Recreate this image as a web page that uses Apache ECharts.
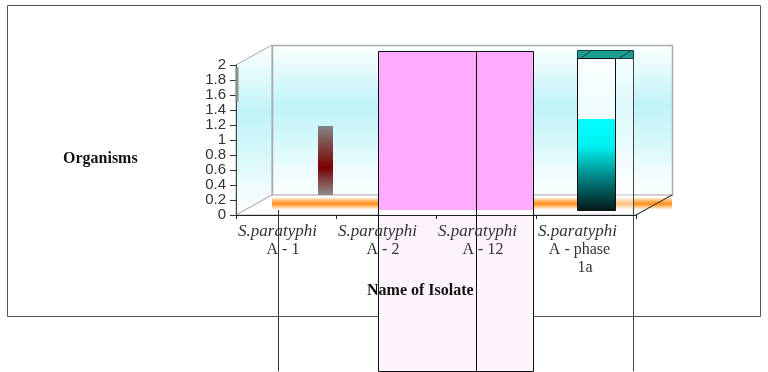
<!DOCTYPE html>
<html>
<head>
<meta charset="utf-8">
<script src="https://cdn.jsdelivr.net/npm/echarts@6/dist/echarts.min.js"></script>
<style>
html,body{margin:0;padding:0;background:#ffffff;}
#chart{width:768px;height:372px;}
</style>
</head>
<body>
<div id="chart"></div>
<script>
// ---------------- data ----------------
const categories = ['S.paratyphi A - 1', 'S.paratyphi A - 2', 'S.paratyphi A - 12', 'S.paratyphi A - phase 1a'];
const yMin = 0;
const yMax = 2;
const yStep = 0.2;
const brownValues = [0.92, null, null, null];
const pinkValues = [null, 1.92, 1.92, null];
const tealTopValues = [null, null, null, 1.93];
const tealFillValues = [null, null, null, 1.01];
const barBaseValue = -0.2;      // base of the 3D bars, below the back floor line
const overflowValue = -2.35;    // where the broken bars run off the plot
const axisStubValues = [1.51, 1.97]; // grey stub on the value axis

// ---------------- layout ----------------
const FRONT = { left: 236, top: 65, width: 400, height: 150 };
const DEPTH = { dx: 36, dy: -20 };
const BACK = { left: FRONT.left + DEPTH.dx, top: FRONT.top + DEPTH.dy, width: FRONT.width, height: FRONT.height };
const FL = FRONT.left, FT = FRONT.top, FR = FRONT.left + FRONT.width, FB = FRONT.top + FRONT.height;
const BL = BACK.left, BT = BACK.top, BR = BACK.left + BACK.width, BB = BACK.top + BACK.height;

const wallGrad = { type: 'linear', x: 0, y: 0, x2: 0, y2: 1, colorStops: [
  { offset: 0, color: '#fbffff' }, { offset: 0.1, color: '#eefcfd' },
  { offset: 0.4, color: '#c0f3f7' }, { offset: 0.6, color: '#d2f7fa' },
  { offset: 0.85, color: '#f0fcfd' }, { offset: 1, color: '#fbfefe' }] };
const orangeGrad = { type: 'linear', x: 0, y: 0, x2: 0, y2: 1, colorStops: [
  { offset: 0, color: '#ffe6cc' }, { offset: 0.45, color: '#ff9526' },
  { offset: 0.6, color: '#ff9a30' }, { offset: 1, color: '#ffeedd' }] };

const crisp = (v) => Math.round(v) + 0.5;
function band(api, cat) {
  const c = api.coord([cat, 0])[0];
  const w = api.size([1, 0])[0];
  return { x0: c - w / 2, w: w };
}
function toItems(arr) {
  const out = [];
  arr.forEach((v, i) => { if (v !== null) out.push([i, v]); });
  return out;
}

function renderBrown(params, api) {
  const cat = api.value(0), v = api.value(1);
  const b = band(api, cat);
  const yTop = api.coord([cat, v])[1], y0 = api.coord([cat, 0])[1];
  const yBase = api.coord([cat, barBaseValue])[1], yLow = api.coord([cat, overflowValue])[1];
  const xl = Math.round(b.x0 + b.w * 0.46), xr = Math.round(b.x0 + b.w * 0.61);
  const xe = crisp(b.x0 + b.w * 0.06);
  return { type: 'group', children: [
    { type: 'rect', shape: { x: xl, y: yTop, width: xr - xl, height: y0 - yTop },
      style: { fill: { type: 'linear', x: 0, y: 0, x2: 0, y2: 1, colorStops: [
        { offset: 0, color: '#858585' }, { offset: 0.6, color: '#7a0000' }, { offset: 1, color: '#8c8c8c' }] } } },
    { type: 'line', shape: { x1: xe, y1: yBase, x2: xe, y2: yLow }, style: { stroke: '#333', lineWidth: 1 } }
  ] };
}

const PINK_SPANS = { 1: [0.06, 1.04], 2: [0.04, 0.61] };
function renderPink(params, api) {
  const cat = api.value(0), v = api.value(1);
  const b = band(api, cat);
  const sp = PINK_SPANS[cat];
  const xl = crisp(b.x0 + b.w * sp[0]), xr = crisp(b.x0 + b.w * sp[1]);
  const yTop = crisp(api.coord([cat, v])[1]);
  const yBase = Math.round(api.coord([cat, barBaseValue])[1]);
  const yLow = crisp(api.coord([cat, overflowValue])[1]);
  return { type: 'group', children: [
    { type: 'rect', shape: { x: xl, y: yTop, width: xr - xl, height: yBase - yTop }, style: { fill: '#ffabff' } },
    { type: 'rect', shape: { x: xl, y: yBase, width: xr - xl, height: 5 }, style: { fill: '#fffaff' } },
    { type: 'rect', shape: { x: xl, y: yBase + 5, width: xr - xl, height: yLow - yBase - 5 }, style: { fill: '#fcf3fc' } },
    { type: 'rect', shape: { x: xl, y: yTop, width: xr - xl, height: yLow - yTop }, style: { fill: null, stroke: '#111', lineWidth: 1 } }
  ] };
}

function renderTeal(params, api) {
  const cat = api.value(0), top = api.value(1), fill = api.value(2);
  const b = band(api, cat);
  const xl = crisp(b.x0 + b.w * 0.05), xm = crisp(b.x0 + b.w * 0.43), xr = crisp(b.x0 + b.w * 0.61);
  const yTop = crisp(api.coord([cat, top])[1]);
  const capB = yTop + 8;
  const yFill = Math.round(api.coord([cat, fill])[1]);
  const yBase = crisp(api.coord([cat, barBaseValue])[1]);
  const yLow = api.coord([cat, overflowValue])[1];
  return { type: 'group', children: [
    { type: 'rect', shape: { x: xm, y: capB, width: xr - xm, height: yBase - capB }, style: { fill: 'rgba(255,255,255,0.45)' } },
    { type: 'rect', shape: { x: xl, y: capB, width: xm - xl, height: yFill - capB }, style: { fill: 'rgba(255,255,255,0.75)' } },
    { type: 'rect', shape: { x: xl, y: yFill, width: xm - xl, height: yBase - yFill },
      style: { fill: { type: 'linear', x: 0, y: 0, x2: 0, y2: 1, colorStops: [
        { offset: 0, color: '#00ffff' }, { offset: 0.3, color: '#00f0f0' },
        { offset: 0.65, color: '#008080' }, { offset: 1, color: '#051818' }] } } },
    { type: 'rect', shape: { x: xl, y: yTop, width: xr - xl, height: capB - yTop }, style: { fill: '#1b9e92', stroke: '#1a3a38', lineWidth: 1 } },
    { type: 'line', shape: { x1: xl + 3, y1: capB, x2: xl + 14, y2: yTop }, style: { stroke: '#1a3a38', lineWidth: 1 } },
    { type: 'line', shape: { x1: xm + 3, y1: capB, x2: xr - 2, y2: yTop }, style: { stroke: '#1a3a38', lineWidth: 1 } },
    { type: 'rect', shape: { x: xl, y: capB, width: xm - xl, height: yBase - capB }, style: { fill: null, stroke: '#111', lineWidth: 1 } },
    { type: 'line', shape: { x1: xr, y1: capB, x2: xr, y2: yLow }, style: { stroke: '#444', lineWidth: 1 } }
  ] };
}

function renderStub(params, api) {
  const lo = api.value(1), hi = api.value(2);
  const b = band(api, 0);
  const y1 = api.coord([0, hi])[1], y0 = api.coord([0, lo])[1];
  return { type: 'rect', shape: { x: b.x0 - 0.5, y: y1, width: 3, height: y0 - y1 }, style: { fill: '#8e8e8e' } };
}

const chart = echarts.init(document.getElementById('chart'), null, { renderer: 'canvas' });
chart.setOption({
  animation: false,
  backgroundColor: '#ffffff',
  title: [
    { text: 'Organisms', left: 63, top: 151, padding: 0,
      textStyle: { fontFamily: 'Liberation Serif', fontWeight: 'bold', fontSize: 16, color: '#111' } },
    { text: 'Name of Isolate', left: 367, top: 283, padding: 0,
      textStyle: { fontFamily: 'Liberation Serif', fontWeight: 'bold', fontSize: 16, color: '#111' } }
  ],
  grid: [
    { left: FRONT.left, top: FRONT.top, width: FRONT.width, height: FRONT.height, containLabel: false },
    { left: BACK.left, top: BACK.top, width: BACK.width, height: BACK.height, containLabel: false }
  ],
  xAxis: [
    { type: 'category', gridIndex: 0, data: categories, z: 5,
      axisLine: { show: true, lineStyle: { color: '#222', width: 1 } },
      axisTick: { show: true, length: 4, lineStyle: { color: '#222' } },
      axisLabel: { interval: 0, margin: 8, color: '#333',
        formatter: function (v) {
          const i = v.indexOf(' ');
          const genus = v.slice(0, i), rest = v.slice(i + 1);
          if (rest.length > 7) {
            const parts = rest.split(' ');
            return '{a|' + genus + '}\n{c|' + parts.slice(0, -1).join(' ') + '}\n{d|' + parts[parts.length - 1] + '}';
          }
          return '{a|' + genus + '}\n{b|' + rest + '}';
        },
        rich: {
          a: { fontFamily: 'Liberation Serif', fontStyle: 'italic', fontSize: 17, lineHeight: 18, color: '#333', padding: [0, 17, 0, 0], align: 'center' },
          b: { fontFamily: 'Liberation Serif', fontSize: 16, lineHeight: 18, color: '#333', padding: [0, 6, 0, 0], align: 'center' },
          c: { fontFamily: 'Liberation Serif', fontSize: 16, lineHeight: 18, color: '#333', padding: [0, 13, 0, 0], align: 'center' },
          d: { fontFamily: 'Liberation Serif', fontSize: 16, lineHeight: 17, color: '#333', padding: [0, 2, 0, 0], align: 'center' }
        } },
      splitLine: { show: false } },
    { type: 'category', gridIndex: 1, data: categories, show: false }
  ],
  yAxis: [
    { type: 'value', gridIndex: 0, min: yMin, max: yMax, interval: yStep, z: 5,
      axisLine: { show: true, lineStyle: { color: '#444', width: 1 } },
      axisTick: { show: true, length: 6, lineStyle: { color: '#333' } },
      axisLabel: { margin: 10, color: '#333', fontFamily: 'Liberation Sans', fontSize: 15,
        formatter: (v) => String(Math.round(v * 10) / 10) },
      splitLine: { show: false } },
    { type: 'value', gridIndex: 1, min: yMin, max: yMax, show: false, splitLine: { show: false } }
  ],
  graphic: [
    { type: 'rect', z: 0, shape: { x: 7.5, y: 5.5, width: 753, height: 311 }, style: { fill: null, stroke: '#555', lineWidth: 1 } },
    { type: 'polygon', z: 0, shape: { points: [[FL, FT], [BL, BT], [BL, BB], [FL, FB]] }, style: { fill: wallGrad, stroke: '#aaaaaa', lineWidth: 1 } },
    { type: 'rect', z: 0, shape: { x: BL + 0.5, y: BT + 0.5, width: BACK.width, height: BACK.height }, style: { fill: wallGrad, stroke: '#aaaaaa', lineWidth: 1.5 } },
    { type: 'polygon', z: 0, shape: { points: [[FL, FB], [BL, BB], [BR, BB], [FR, FB]] }, style: { fill: '#ffffff', stroke: '#aaaaaa', lineWidth: 1 } },
    { type: 'rect', z: 1, shape: { x: BL, y: BB + 3, width: BACK.width, height: 11 }, style: { fill: orangeGrad } },
    { type: 'line', z: 1, shape: { x1: FR, y1: FB, x2: BR, y2: BB }, style: { stroke: '#222', lineWidth: 1 } }
  ],
  series: [
    { type: 'custom', name: 'stub', xAxisIndex: 0, yAxisIndex: 0, z: 6, renderItem: renderStub,
      data: [[0, axisStubValues[0], axisStubValues[1]]] },
    { type: 'custom', name: 'A-1', xAxisIndex: 1, yAxisIndex: 1, z: 2, renderItem: renderBrown,
      data: toItems(brownValues) },
    { type: 'custom', name: 'pink', xAxisIndex: 1, yAxisIndex: 1, z: 2, renderItem: renderPink,
      data: toItems(pinkValues) },
    { type: 'custom', name: 'teal', xAxisIndex: 1, yAxisIndex: 1, z: 2, renderItem: renderTeal,
      data: tealTopValues.map((v, i) => v === null ? null : [i, v, tealFillValues[i]]).filter(d => d) }
  ]
});
</script>
</body>
</html>
